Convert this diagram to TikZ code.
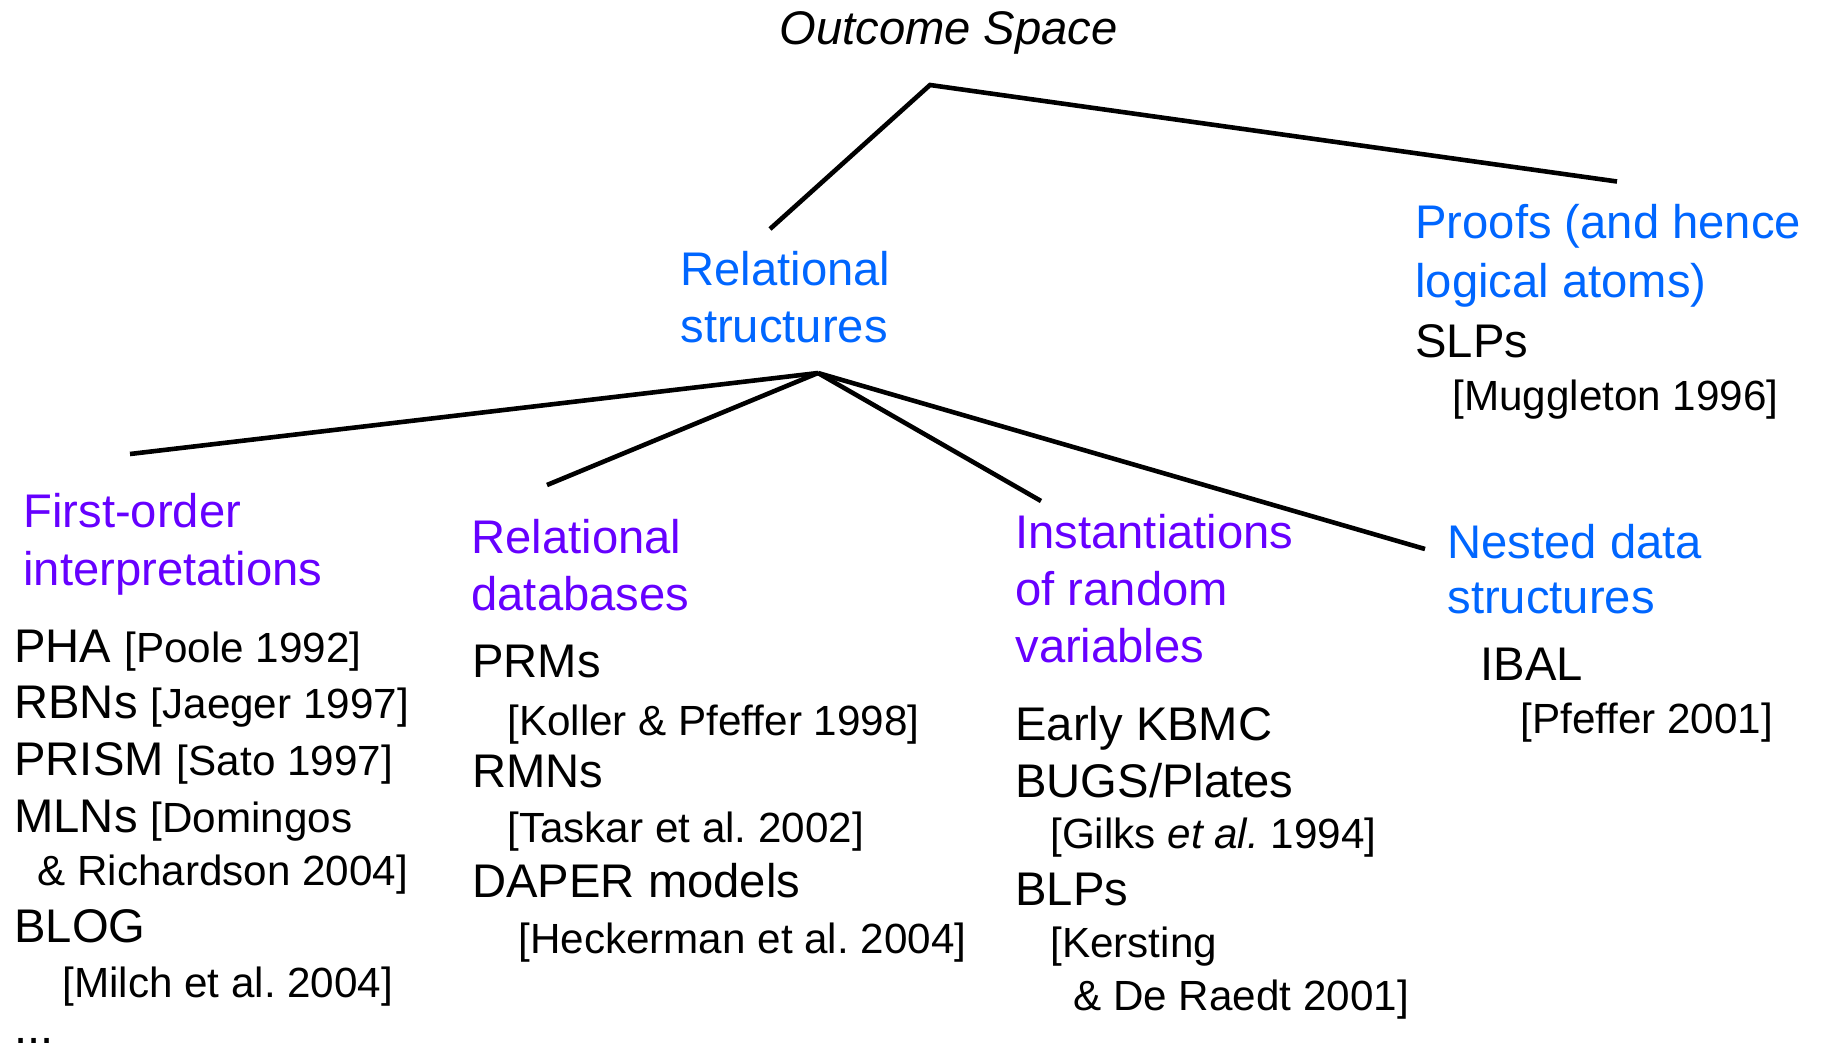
\documentclass[tikz,border=0pt]{standalone}
\usepackage{fontspec}
\setmainfont{Liberation Sans}
\usepackage{xcolor}
\usetikzlibrary{positioning}
\frenchspacing
\definecolor{kindblue}{HTML}{0066FF}
\definecolor{kindviolet}{HTML}{6600FF}
\newcommand{\mainsz}{\fontsize{23.6}{28}\selectfont}
\newcommand{\refsz}{\fontsize{21.1}{25}\selectfont}
\tikzset{
	entry/.style={anchor=base west,inner sep=0pt,font=\mainsz},
	citation/.style={entry,font=\refsz},
	branch/.style={line width=2.3pt}
}
\begin{document}
\begin{tikzpicture}[x=0.5pt,y=-0.5pt]
			\useasboundingbox (0,0) rectangle (1824,1049);
			% tree
			\coordinate (root) at (930,85);
			\coordinate (relTop) at (770,229);
			\coordinate (proofTop) at (1617,181.5);
			\coordinate (relFork) at (818,373);
			\coordinate (foTop) at (130,454);
			\coordinate (dbTop) at (547,485);
			\coordinate (rvTop) at (1041,501);
			\coordinate (nestTop) at (1425,549);
			\draw[branch] (relTop)--(root)--(proofTop);
			\draw[branch] (relFork)--(foTop);
			\draw[branch] (relFork)--(dbTop);
			\draw[branch] (relFork)--(rvTop);
			\draw[branch] (relFork)--(nestTop);
			\node[entry,font=\mainsz\itshape] (outcome) at (779,44) {Outcome Space};
			% top level
			\node[entry,kindblue] (relA) at (680,285) {Relational};
			\node[entry,kindblue] (relB) at (680,342) {structures};
			\node[entry,kindblue] (proofA) at (1415,238) {Proofs (and hence};
			\node[entry,kindblue] (proofB) at (1415,297) {logical atoms)};
			\node[entry] (slp) at (1415,357) {SLPs};
			\node[citation] (slpRef) at (1452,410) {[Muggleton 1996]};
			% first-order interpretations
			\node[entry,kindviolet] (foA) at (23,527) {First-order};
			\node[entry,kindviolet] (foB) at (23,585) {interpretations};
			\node[entry] (pha) at (14,662) {PHA {\refsz[Poole 1992]}};
			\node[entry] (rbn) at (14,718) {RBNs {\refsz[Jaeger 1997]}};
			\node[entry] (prism) at (14,775) {PRISM {\refsz[Sato 1997]}};
			\node[entry] (mln) at (14,832) {MLNs {\refsz[Domingos}};
			\node[citation] (mlnRef) at (37,885) {\& Richardson 2004]};
			\node[entry] (blog) at (14,942) {BLOG};
			\node[citation] (blogRef) at (62,997) {[Milch et al. 2004]};
			\node[entry,text depth=0pt] (more) at (14,1043) {...};
			% relational databases
			\node[entry,kindviolet] (dbA) at (471,553) {Relational};
			\node[entry,kindviolet] (dbB) at (471,610) {databases};
			\node[entry] (prm) at (472,677) {PRMs};
			\node[citation] (prmRef) at (507,735) {[Koller \& Pfeffer 1998]};
			\node[entry] (rmn) at (472,787) {RMNs};
			\node[citation] (rmnRef) at (507,842) {[Taskar et al. 2002]};
			\node[entry] (daper) at (472,897) {DAPER models};
			\node[citation] (daperRef) at (518,953) {[Heckerman et al. 2004]};
			% random variables
			\node[entry,kindviolet] (rvA) at (1015,548) {Instantiations};
			\node[entry,kindviolet] (rvB) at (1015,605) {of random};
			\node[entry,kindviolet] (rvC) at (1015,662) {variables};
			\node[entry] (kbmc) at (1015,740) {Early KBMC};
			\node[entry] (bugs) at (1015,797) {BUGS/Plates};
			\node[citation] (bugsRef) at (1050,848) {[Gilks \textit{et al.} 1994]};
			\node[entry] (blp) at (1015,905) {BLPs};
			\node[citation] (blpRefA) at (1050,957) {[Kersting};
			\node[citation] (blpRefB) at (1073,1010) {\& De Raedt 2001]};
			% nested data
			\node[entry,kindblue] (nestA) at (1447,558) {Nested data};
			\node[entry,kindblue] (nestB) at (1447,613) {structures};
			\node[entry] (ibal) at (1480,680) {IBAL};
			\node[citation] (ibalRef) at (1520,733) {[Pfeffer 2001]};
		\end{tikzpicture}
\end{document}
